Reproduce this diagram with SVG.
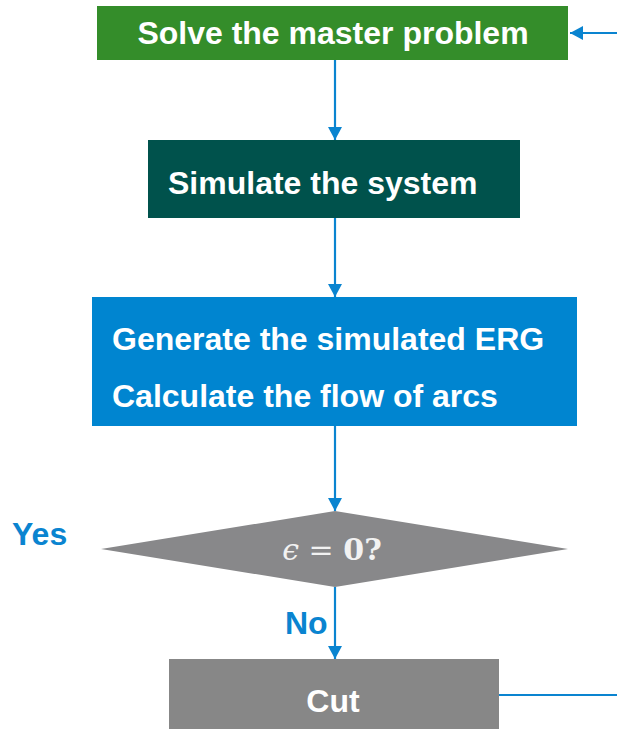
<svg xmlns="http://www.w3.org/2000/svg" width="617" height="729" viewBox="0 0 617 729">
<style>
.lbl{font-family:"Liberation Sans",Arial,sans-serif;font-weight:bold;font-size:32px;fill:#ffffff}
.blue{font-family:"Liberation Sans",Arial,sans-serif;font-weight:bold;font-size:32px;fill:#0a84d0}
.conn{stroke:#0a84d0;stroke-width:2.2;fill:none}
</style>
<defs>
<marker id="ah" viewBox="0 0 13 14" refX="13" refY="7" markerWidth="13" markerHeight="14" markerUnits="userSpaceOnUse" orient="auto" style="overflow:visible">
<path d="M0,0 L13,7 L0,14 z" fill="#0a84d0"/>
</marker>
</defs>
<rect width="617" height="729" fill="#ffffff"/>
<g id="solve">
<rect x="97" y="6" width="471" height="54" fill="#348d2a"/>
<text class="lbl" x="333" y="44" text-anchor="middle">Solve the master problem</text>
</g>
<g id="simulate">
<rect x="148" y="140" width="372" height="78" fill="#00524c"/>
<text class="lbl" x="168" y="194">Simulate the system</text>
</g>
<g id="generate">
<rect x="92" y="297" width="485" height="129" fill="#0085d0"/>
<text class="lbl" x="112" y="350">Generate the simulated ERG</text>
<text class="lbl" x="112" y="407">Calculate the flow of arcs</text>
</g>
<g id="decision">
<polygon points="335,511 568,549 335,587 101,549" fill="#88888a"/>
<text x="332" y="560" text-anchor="middle" font-family="'DejaVu Serif','Liberation Serif',serif" font-size="30" fill="#f2f2f2"><tspan font-style="italic">ϵ</tspan> = <tspan font-weight="bold">0?</tspan></text>
</g>
<g id="cut">
<rect x="169" y="659" width="330" height="70" fill="#878787"/>
<text class="lbl" x="333" y="712" text-anchor="middle">Cut</text>
</g>
<g id="connectors">
<line class="conn" x1="335" y1="60" x2="335" y2="140" marker-end="url(#ah)"/>
<line class="conn" x1="335" y1="218" x2="335" y2="297" marker-end="url(#ah)"/>
<line class="conn" x1="335" y1="426" x2="335" y2="511" marker-end="url(#ah)"/>
<line class="conn" x1="335" y1="587" x2="335" y2="659" marker-end="url(#ah)"/>
<line class="conn" x1="617" y1="33" x2="570" y2="33" marker-end="url(#ah)"/>
<line class="conn" x1="499" y1="695" x2="617" y2="695"/>
<text class="blue" x="12" y="545">Yes</text>
<text class="blue" x="285" y="634">No</text>
</g>
</svg>
